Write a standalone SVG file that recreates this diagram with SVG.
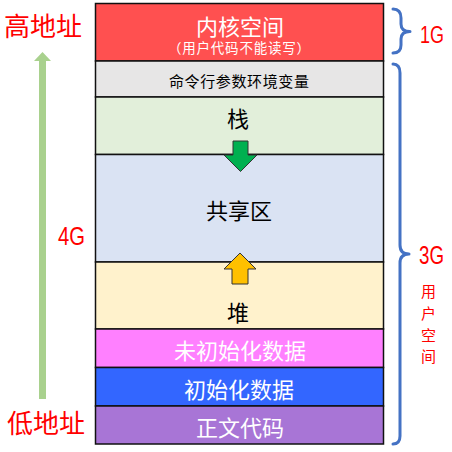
<svg xmlns="http://www.w3.org/2000/svg" width="452" height="452" viewBox="0 0 452 452">
<style>
.seg{stroke:#111;stroke-width:1.5}
.cjk{font-family:"Noto Sans CJK SC","Noto Sans",sans-serif;text-anchor:middle}
.w{fill:#fff}
.k{fill:#000}
.r{fill:#f00}
.lat{font-family:"Liberation Sans",sans-serif;fill:#f00}
.brace{fill:none;stroke:#4472C4;stroke-width:3;stroke-linejoin:round;stroke-linecap:round}
</style>
<rect width="452" height="452" fill="#fff"/>
<g id="kernel"><rect class="seg" x="95.5" y="3.5" width="288" height="57.5" fill="#FF5050"/>
<text class="cjk w" x="240" y="35" font-size="22">内核空间</text>
<text class="cjk w" x="239" y="53" font-size="13.5" textLength="142" lengthAdjust="spacing">（用户代码不能读写）</text></g>
<g id="env"><rect class="seg" x="95.5" y="61" width="288" height="36" fill="#E7E6E6"/>
<text class="cjk k" x="239" y="87" font-size="15" textLength="140" lengthAdjust="spacing">命令行参数环境变量</text></g>
<g id="stack"><rect class="seg" x="95.5" y="97" width="288" height="57.5" fill="#E2EFDA"/>
<text class="cjk k" x="238" y="127" font-size="22">栈</text></g>
<g id="shared"><rect class="seg" x="95.5" y="154.5" width="288" height="107.5" fill="#DAE3F3"/>
<text class="cjk k" x="239" y="219" font-size="22">共享区</text></g>
<g id="heap"><rect class="seg" x="95.5" y="262" width="288" height="67" fill="#FFF2CC"/>
<text class="cjk k" x="238" y="321" font-size="22">堆</text></g>
<g id="bss"><rect class="seg" x="95.5" y="329" width="288" height="38.5" fill="#FF80FF"/>
<text class="cjk w" x="240" y="359" font-size="22">未初始化数据</text></g>
<g id="data"><rect class="seg" x="95.5" y="367.5" width="288" height="38.5" fill="#3366FF"/>
<text class="cjk w" x="239" y="397.5" font-size="22">初始化数据</text></g>
<g id="text"><rect class="seg" x="95.5" y="406" width="288" height="38" fill="#A875D6"/>
<text class="cjk w" x="240" y="435.5" font-size="22">正文代码</text></g>
<g id="labels">
<text class="cjk r" x="43" y="35.5" font-size="26">高地址</text>
<text class="cjk r" x="46" y="432.5" font-size="26">低地址</text>
<text class="lat" x="58" y="245" font-size="26" textLength="27" lengthAdjust="spacingAndGlyphs">4G</text>
<text class="lat" x="420" y="43" font-size="23" textLength="24" lengthAdjust="spacingAndGlyphs">1G</text>
<text class="lat" x="419" y="264" font-size="25" textLength="25" lengthAdjust="spacingAndGlyphs">3G</text>
<text class="cjk r" x="428.5" y="296.5" font-size="15">用</text>
<text class="cjk r" x="428.5" y="319" font-size="15">户</text>
<text class="cjk r" x="428.5" y="340.5" font-size="15">空</text>
<text class="cjk r" x="428.5" y="362" font-size="15">间</text>
</g>
<g id="connectors">
<polygon points="42.5,52 51,61 46,61 46,399 39,399 39,61 34,61" fill="#A9D18E"/>
<polygon points="233,141 248,141 248,155 257,155 240.5,171.5 224,155 233,155" fill="#00B050" stroke="#333" stroke-width="1"/>
<polygon points="240,253 256,269 248,269 248,284 232,284 232,269 224,269" fill="#FFC000" stroke="#333" stroke-width="1"/>
<path class="brace" d="M393,9 Q401,9 401,18 L401,24 Q401,31.5 410,31.5 Q401,31.5 401,39 L401,45 Q401,53 393,53"/>
<path class="brace" d="M393,64 Q400,64 400,73 L400,245 Q400,254 409,254 Q400,254 400,263 L400,436 Q400,444 393,444"/>
</g>
</svg>
